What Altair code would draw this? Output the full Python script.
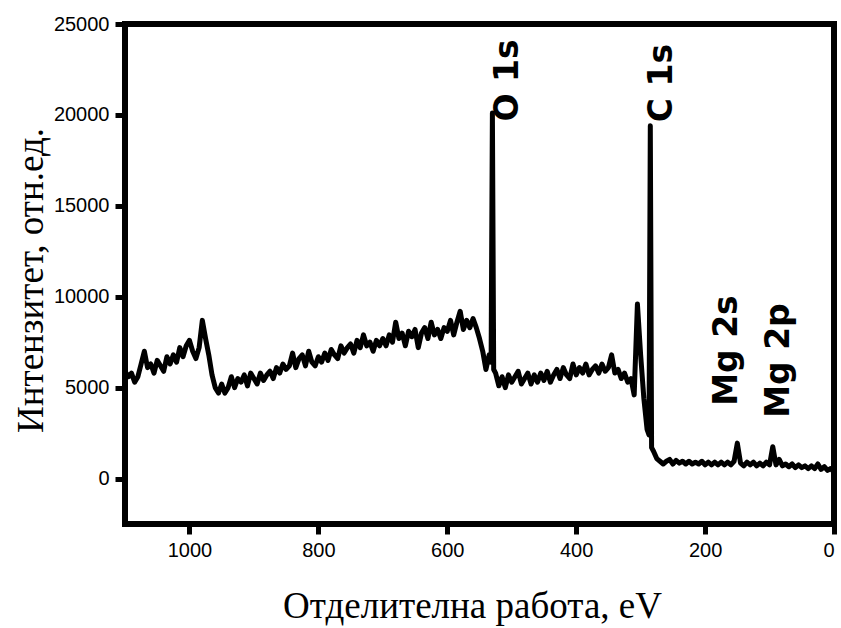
import altair as alt
import pandas as pd

# Survey spectrum sampled every 5 eV, from 1100 eV down to 0 eV
grid_ev = list(range(1100, -1, -5))
grid_counts = [
    5900, 5600, 5800, 5300, 5600, 6300, 7000, 6100, 6300, 5800,   # 1100-1055
    6500, 6200, 5900, 6700, 6300, 6800, 6400, 7200, 6700, 7300,   # 1050-1005
    7600, 7000, 6600, 7200, 8700, 7700, 6800, 5700, 5000, 4700,   # 1000-955
    5200, 4700, 5000, 5600, 5000, 5500, 5300, 5700, 5100, 5800,   # 950-905
    5500, 5200, 5800, 5400, 5700, 5900, 5500, 6100, 5800, 6300,   # 900-855
    6000, 6200, 6900, 6100, 6600, 6800, 6200, 7000, 6400, 6200,   # 850-805
    6700, 6400, 6900, 6500, 7100, 6800, 6600, 7300, 6900, 7200,   # 800-755
    7400, 6900, 7600, 7200, 7900, 7300, 7500, 7000, 7600, 7300,   # 750-705
    7700, 7300, 7900, 7500, 8600, 7700, 8000, 7300, 8100, 7800,   # 700-655
    8200, 7200, 8000, 8300, 7700, 8600, 7900, 8200, 7700, 8300,   # 650-605
    8100, 8700, 7900, 8600, 9200, 8200, 8700, 8300, 8800, 8300,   # 600-555
    7700, 7000, 6000, 6800, 20100, 5800, 5100, 5600, 5000, 5700,  # 550-505
    5300, 5600, 5900, 5200, 5500, 5800, 5200, 5700, 5300, 5800,   # 500-455
    5400, 5900, 5300, 5700, 6000, 5500, 6100, 5700, 5500, 6300,   # 450-405
    5700, 6100, 5800, 6300, 5700, 6000, 6200, 5800, 6300, 5900,   # 400-355
    6100, 6800, 5800, 6000, 5500, 5800, 5300, 5500, 4600, 9600,   # 350-305
    6800, 4400, 2700, 19400, 1500, 1100, 950, 800, 950, 1050,     # 300-255
    800, 1000, 850, 950, 800, 950, 800, 900, 800, 950,            # 250-205
    750, 900, 750, 900, 750, 900, 750, 900, 750, 950,             # 200-155
    1950, 850, 700, 900, 750, 900, 700, 850, 700, 900,            # 150-105
    750, 1750, 750, 1050, 700, 800, 650, 800, 600, 750,           # 100-55
    600, 700, 550, 700, 550, 800, 500, 650, 450, 550,             # 50-5
    350,                                                          # 0
]

# Finer sampling on the flanks of the O 1s and C 1s lines
line_ev = [532, 528, 287, 283]
line_counts = [6400, 6000, 2400, 1700]

# Peak assignments
peak_names = ["O 1s", "C 1s", "Mg 2s", "Mg 2p"]
peak_label_ev = [490, 251, 150.5, 70]
peak_label_counts = [19640, 19600, 4000, 3340]

spectrum = pd.DataFrame({
    "ev": grid_ev + line_ev,
    "counts": grid_counts + line_counts,
}).sort_values("ev", ascending=False)

labels = pd.DataFrame({
    "name": peak_names,
    "ev": peak_label_ev,
    "counts": peak_label_counts,
})

x_scale = alt.Scale(domain=[0, 1100], reverse=True, nice=False, zero=False)
y_scale = alt.Scale(domain=[-2500, 25000], nice=False, zero=False)

axis_style = dict(
    ticks=True, tickColor="black", tickWidth=5, tickSize=10,
    domain=False, grid=False,
    labelFont="Liberation Sans", labelFontSize=20, labelColor="black",
    labelPadding=6,
    titleFont="Liberation Serif", titleFontSize=37, titleFontWeight="normal",
    titleColor="black",
)

x_axis = alt.Axis(
    values=[0, 200, 400, 600, 800, 1000],
    format="d",
    title="Отделителна работа, eV",
    titleX=347, titleY=93, titleBaseline="alphabetic", titleAlign="center",
    titleAngle=0,
    **axis_style,
)
y_axis = alt.Axis(
    values=[0, 5000, 10000, 15000, 20000, 25000],
    format="d",
    title="Интензитет, отн.ед.",
    titleX=-83, titleY=256, titleBaseline="alphabetic", titleAlign="center",
    titleAngle=270,
    **axis_style,
)

line = alt.Chart(spectrum).mark_line(
    color="black", strokeWidth=5, strokeJoin="round", clip=True
).encode(
    x=alt.X("ev:Q", scale=x_scale, axis=x_axis),
    y=alt.Y("counts:Q", scale=y_scale, axis=y_axis),
    order=alt.Order("ev:Q", sort="descending"),
)

text = alt.Chart(labels).mark_text(
    angle=270, align="left", baseline="alphabetic",
    font="DejaVu Sans", fontSize=33, fontWeight="bold", color="black",
).encode(
    x=alt.X("ev:Q", scale=x_scale),
    y=alt.Y("counts:Q", scale=y_scale),
    text="name:N",
)

chart = alt.layer(line, text).properties(
    width=709, height=500,
    autosize=alt.AutoSizeParams(type="none"),
    padding={"left": 125, "top": 24, "right": 7, "bottom": 104},
    background="white",
).configure_view(
    stroke="black", strokeWidth=6,
)

chart.save("out.html", embed_options={"renderer": "svg", "actions": False})
